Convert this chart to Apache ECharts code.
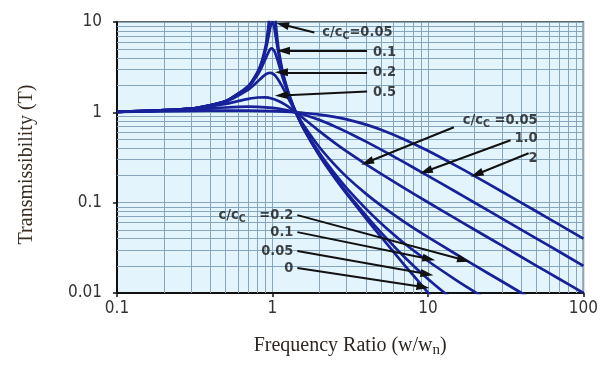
<!DOCTYPE html>
<html style="height: 100%">
<head>
<meta charset="utf-8">
</head>
<body style="height: 100%; margin: 0; background: #fff">
<div id="container" style="width: 601px; height: 365px"></div>
<script src="https://cdn.jsdelivr.net/npm/echarts/dist/echarts.min.js"></script>
<script>
// minor grid lines of the log-log paper
var xMinor = [0.2, 0.3, 0.4, 0.5, 0.6, 0.7, 0.8, 0.9, 2, 3, 4, 5, 6, 7, 8, 9, 20, 30, 40, 50, 60, 70, 80, 90];
var yMinor = [0.02, 0.03, 0.04, 0.05, 0.06, 0.07, 0.08, 0.09, 0.2, 0.3, 0.4, 0.5, 0.6, 0.7, 0.8, 0.9, 2, 3, 4, 5, 6, 7, 8, 9];

// transmissibility curves, [frequency ratio, T], one per damping ratio c/cc
var zeta0 = [[0.1, 1.010], [0.3, 1.099], [0.5, 1.333], [0.7, 1.961], [0.8, 2.778], [0.85, 3.604], [0.9, 5.263], [0.92, 6.51], [0.95, 10.26], [0.97, 16.9],
    [1.03, 16.4], [1.05, 9.76], [1.08, 6.01], [1.1, 4.76], [1.15, 3.10], [1.2, 2.27], [1.3, 1.449], [1.414, 1.0], [1.6, 0.641], [2, 0.333],
    [2.5, 0.190], [3, 0.125], [4, 0.0667], [5, 0.0417], [7, 0.0208], [10, 0.0101], [12, 0.0070]];
var zeta005 = [[0.1, 1.010], [0.3, 1.099], [0.5, 1.332], [0.7, 1.947], [0.8, 2.720], [0.85, 3.458], [0.9, 4.776], [0.92, 5.609], [0.95, 7.379], [0.97, 8.845],
    [0.99, 9.951], [1.0, 10.05], [1.01, 9.760], [1.03, 8.401], [1.05, 6.853], [1.08, 5.070], [1.1, 4.244], [1.15, 2.940], [1.2, 2.208], [1.3, 1.436],
    [1.414, 1.0], [1.6, 0.646], [2, 0.339], [2.5, 0.196], [3, 0.130], [4, 0.0718], [5, 0.0466], [7, 0.0254], [10, 0.0143], [15, 0.0080]];
var zeta01 = [[0.1, 1.010], [0.3, 1.099], [0.5, 1.328], [0.7, 1.909], [0.8, 2.571], [0.85, 3.117], [0.9, 3.882], [0.92, 4.242], [0.95, 4.766], [0.97, 5.023],
    [0.99, 5.123], [1.0, 5.099], [1.03, 4.753], [1.05, 4.373], [1.08, 3.752], [1.1, 3.367], [1.15, 2.590], [1.2, 2.052], [1.3, 1.401], [1.414, 1.0],
    [1.6, 0.659], [2, 0.356], [2.5, 0.212], [3, 0.145], [4, 0.0853], [5, 0.0589], [7, 0.0358], [10, 0.0226], [15, 0.0141], [20, 0.0103], [25, 0.0082]];
var zeta02 = [[0.1, 1.010], [0.3, 1.097], [0.5, 1.314], [0.7, 1.785], [0.8, 2.180], [0.85, 2.407], [0.9, 2.611], [0.92, 2.672], [0.95, 2.727], [0.97, 2.733],
    [1.0, 2.693], [1.03, 2.597], [1.05, 2.509], [1.1, 2.241], [1.15, 1.959], [1.2, 1.704], [1.3, 1.305], [1.414, 1.0], [1.6, 0.704], [2, 0.413],
    [2.5, 0.265], [3, 0.193], [4, 0.125], [5, 0.0929], [7, 0.0618], [10, 0.0416], [15, 0.0272], [20, 0.0202], [30, 0.0134], [40, 0.0100], [50, 0.0080]];
var zeta05 = [[0.1, 1.010], [0.3, 1.090], [0.5, 1.240], [0.6, 1.329], [0.7, 1.409], [0.8, 1.460], [0.9, 1.463], [1.0, 1.414], [1.1, 1.328], [1.2, 1.222],
    [1.3, 1.114], [1.414, 1.0], [1.6, 0.844], [2, 0.620], [2.5, 0.463], [3, 0.370], [4, 0.266], [5, 0.208], [7, 0.146], [10, 0.101],
    [15, 0.0670], [20, 0.0501], [30, 0.0334], [50, 0.0200], [70, 0.0143], [100, 0.0100]];
var zeta1 = [[0.1, 1.010], [0.3, 1.070], [0.5, 1.131], [0.7, 1.155], [0.8, 1.151], [1.0, 1.118], [1.2, 1.066], [1.414, 1.0], [1.6, 0.942], [2, 0.825],
    [2.5, 0.703], [3, 0.608], [4, 0.474], [5, 0.387], [7, 0.281], [10, 0.198], [15, 0.133], [20, 0.0998], [30, 0.0666], [50, 0.0400],
    [70, 0.0286], [100, 0.0200]];
var zeta2 = [[0.1, 1.009], [0.3, 1.037], [0.5, 1.047], [0.7, 1.045], [1.0, 1.031], [1.2, 1.017], [1.414, 1.0], [1.6, 0.983], [2, 0.944], [2.5, 0.890],
    [3, 0.835], [4, 0.731], [5, 0.641], [7, 0.504], [10, 0.375], [15, 0.259], [20, 0.197], [30, 0.132], [50, 0.0798], [70, 0.0571], [100, 0.0400]];

var curves = [zeta0, zeta005, zeta01, zeta02, zeta05, zeta1, zeta2];
var curveNames = ['0', '0.05', '0.1', '0.2', '0.5', '1.0', '2'];

// annotation texts and arrows (in data coordinates)
var noteTexts = [
    ['{a|c/c}{s|C}{a|=0.05}', 2.06, 7.66, 'right'],
    ['{a|0.1}', 6.33, 4.60, 'left'],
    ['{a|0.2}', 6.33, 2.77, 'left'],
    ['{a|0.5}', 6.33, 1.663, 'left'],
    ['{a|c/c}{s|C}{a| =0.05}', 16.5, 0.816, 'right'],
    ['{a|1.0}', 51.5, 0.516, 'left'],
    ['{a|2}', 51.5, 0.310, 'left'],
    ['{a|c/c}{s|C}{a|   =0.2}', 1.384, 0.0728, 'left'],
    ['{a|0.1}', 1.384, 0.0472, 'left'],
    ['{a|0.05}', 1.384, 0.0291, 'left'],
    ['{a|0}', 1.384, 0.0189, 'left']
];
var noteArrows = [
    [[1.858, 7.66], [1.159, 9.38]],
    [[4.06, 4.80], [1.176, 4.80]],
    [[4.06, 2.77], [1.142, 2.77]],
    [[4.06, 1.706], [1.142, 1.54]],
    [[14.68, 0.683], [4.064, 0.280]],
    [[34.0, 0.491], [9.71, 0.223]],
    [[44.4, 0.352], [20.6, 0.2065]],
    [[1.446, 0.0728], [17.0, 0.0232]],
    [[1.446, 0.0472], [10.15, 0.0238]],
    [[1.446, 0.0291], [9.86, 0.0162]],
    [[1.446, 0.0189], [9.29, 0.01164]]
];

var chart = echarts.init(document.getElementById('container'));

var narrow = "'Liberation Sans Narrow', 'DejaVu Sans Condensed', 'Liberation Sans', sans-serif";
var gridColor = '#86a6be';

var series = [];

// paper grid
series.push({
    type: 'line',
    data: [[1, 1]],
    showSymbol: false,
    lineStyle: { width: 0 },
    silent: true,
    markLine: {
        z: 1,
        silent: true,
        symbol: ['none', 'none'],
        label: { show: false },
        animation: false,
        lineStyle: { color: gridColor, width: 1, type: 'solid' },
        data: xMinor.map(function (v) { return { xAxis: v }; })
            .concat(yMinor.map(function (v) { return { yAxis: v }; }))
    }
});

for (var i = 0; i < curves.length; i++) {
    series.push({
        type: 'line',
        name: curveNames[i],
        data: curves[i],
        showSymbol: false,
        smooth: 0.2,
        clip: true,
        silent: true,
        z: 3,
        lineStyle: { color: '#16219a', width: 2.7 }
    });
}

// arrows
series.push({
    type: 'line',
    data: [[1, 1]],
    showSymbol: false,
    lineStyle: { width: 0 },
    silent: true,
    markLine: {
        z: 6,
        silent: true,
        animation: false,
        symbol: ['none', 'triangle'],
        symbolSize: [8, 13],
        label: { show: false },
        lineStyle: { color: '#111', width: 2, type: 'solid' },
        data: noteArrows.map(function (a) {
            return [{ coord: a[0] }, { coord: a[1] }];
        })
    }
});

// annotation labels
var richStyle = {
    a: { fontFamily: narrow, fontSize: 14.5, fontWeight: 'bold', color: '#151515' },
    s: { fontFamily: narrow, fontSize: 10.5, fontWeight: 'bold', color: '#151515', padding: [8, 0, 0, 0] }
};
series.push({
    type: 'scatter',
    symbolSize: 0,
    silent: true,
    z: 7,
    data: noteTexts.map(function (n) {
        return {
            value: [n[1], n[2]],
            label: {
                show: true,
                position: n[3],
                distance: 1,
                formatter: n[0],
                rich: richStyle
            }
        };
    })
});

var option = {
    animation: false,
    backgroundColor: '#fff',
    grid: {
        left: 117,
        right: 16,
        top: 22,
        bottom: 72,
        show: true,
        backgroundColor: '#e3f4fc',
        borderColor: '#333',
        borderWidth: 1.5
    },
    xAxis: {
        type: 'log',
        logBase: 10,
        min: 0.1,
        max: 100,
        name: 'Frequency Ratio (w/w{sub|n})',
        nameLocation: 'middle',
        nameGap: 40,
        nameTextStyle: {
            fontFamily: 'Liberation Serif',
            fontSize: 20,
            color: '#2e2620',
            rich: {
                sub: { fontFamily: 'Liberation Serif', fontSize: 15, color: '#2e2620', padding: [10, 0, 0, 0] }
            }
        },
        axisLine: { show: true, lineStyle: { color: '#111', width: 2 } },
        axisTick: { show: true, length: 4, lineStyle: { color: '#111', width: 1.5 } },
        axisLabel: { fontFamily: narrow, fontSize: 17, color: '#333', margin: 7 },
        splitLine: { show: true, lineStyle: { color: gridColor, width: 1 } }
    },
    yAxis: {
        type: 'log',
        logBase: 10,
        min: 0.01,
        max: 10,
        name: 'Transmissibility (T)',
        nameLocation: 'middle',
        nameGap: 80,
        nameTextStyle: {
            fontFamily: 'Liberation Serif',
            fontSize: 20,
            color: '#3a2e24',
            padding: [0, 14, 0, 0]
        },
        axisLine: { show: true, lineStyle: { color: '#111', width: 2 } },
        axisTick: { show: true, length: 4, lineStyle: { color: '#111', width: 1.5 } },
        axisLabel: { fontFamily: narrow, fontSize: 17, color: '#333', margin: 15 },
        splitLine: { show: true, lineStyle: { color: gridColor, width: 1 } }
    },
    series: series
};

chart.setOption(option);
</script>
</body>
</html>
